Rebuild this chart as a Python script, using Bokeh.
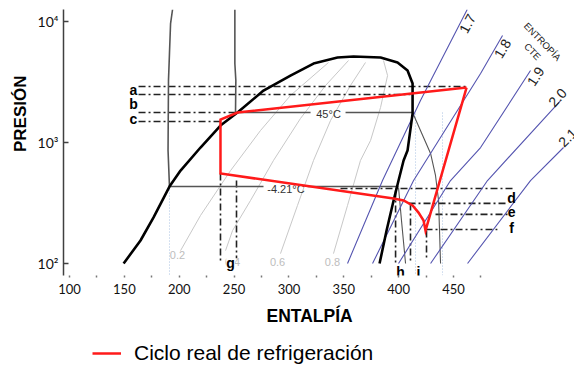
from bokeh.plotting import figure
from bokeh.layouts import column
from bokeh.models import Range1d, FixedTicker, Title, Legend, LegendItem, Label
from bokeh.core.properties import value
from bokeh.embed import file_html
from bokeh.resources import INLINE

# ---------------- axes ----------------
x_ticks = [100, 150, 200, 250, 300, 350, 400, 450]
x_minor = [125, 175, 225, 275, 325, 375, 425, 475]
y_ticks = [100, 1000, 10000]
y_tick_labels = ["10²", "10³", "10⁴"]

# ---------------- saturation dome (h kJ/kg, P kPa) ----------------
dome_h = [149.3, 164.7, 176.6, 191.1, 201.2, 219.4, 237.6, 253.1, 276.8, 301.4, 322.4,
          344.3, 358.9, 383.5, 399.0, 408.1, 412.7, 412.7, 408.1, 404.5, 399.9, 395.4,
          389.0, 382.6]
dome_p = [99.4, 154, 239, 430, 583, 904, 1374, 1758, 2673, 3556, 4470,
          5010, 5105, 5010, 4560, 3915, 3057, 1725, 853, 706, 482, 330,
          186, 99.4]

# ---------------- real refrigeration cycle ----------------
cycle_h = [461.9, 253.1, 237.6, 237.6, 395.4, 404.5, 412.7, 418.1, 422.7, 424.5, 461.9]
cycle_p = [2830, 1758, 1541, 551, 343, 330, 300, 262, 225, 186, 2830]

# ---------------- isotherms ----------------
iso1_h = [193.9, 192.1, 191.1, 190.2, 189.8, 191.1]
iso1_p = [12500, 9570, 5410, 3240, 853, 430]
iso2_h = [250.7, 250.7, 251.6, 251.3]
iso2_p = [12500, 4470, 3240, 1758]
t45_p = 1758
t45_h0 = [253.1, 351.6]
t45_h1 = [319.7, 412.7]
t45_sh_h = [412.7, 422.7, 429.1, 433.6, 436.4, 438.2]
t45_sh_p = [1758, 1094, 807, 531, 330, 99.4]
tm4_p = 430
tm4_h0 = [191.1, 317.0]
tm4_h1 = [276.8, 399.9]
tm4_sh_h = [399.9, 402.6, 406.3]
tm4_sh_p = [422, 225, 99.4]
iso_text = ["45°C", "-4.21°C"]
iso_text_h = [336.1, 297.3]
iso_text_p = [1725, 414]

# ---------------- vapour quality lines ----------------
q_labels = ["0.2", "0.4", "0.6", "0.8"]
q_label_h = [198.4, 248.6, 289.6, 339.7]
q_label_p = [116, 101.4, 103, 103]
q02_h = [201.2, 219.4, 246.8, 274.1, 301.4, 336.1]
q02_p = [127, 248, 583, 1250, 2433, 4560]
q04_h = [242.2, 248.6, 265.0, 285.9, 310.5, 333.4, 354.3]
q04_p = [127, 186, 330, 706, 1570, 2944, 4735]
q06_h = [292.3, 307.8, 322.4, 337.9, 356.1, 369.8]
q06_p = [120, 300, 706, 1510, 2944, 4560]
q08_h = [340.6, 353.4, 365.2, 374.4, 383.5, 389.9, 386.2]
q08_p = [120, 300, 706, 1033, 1936, 3556, 4735]

# ---------------- constant entropy lines ----------------
s_labels = ["1.7", "1.8", "1.9", "2.0", "2.1"]
s_label_h = [462.8, 494.7, 524.8, 544.8, 554.0]
s_label_p = [9570, 5946, 3493, 2340, 1094]
s_label_angle = [1.08, 1.03, 0.99, 0.84, 0.79]
s17_h = [462.5, 419.9, 385.3, 353.4]
s17_p = [12500, 2211, 482, 99.4]
s18_h = [494.7, 474.7, 413.6, 376.2]
s18_p = [7620, 3700, 482, 99.4]
s19_h = [520.2, 474.7, 447.3, 399.9]
s19_p = [3915, 904, 482, 99.4]
s20_h = [547.6, 481.0, 429.1]
s20_p = [2211, 482, 99.4]
s21_h = [550.3, 520.2, 462.8]
s21_p = [904, 482, 99.4]
ent_text = ["ENTROPÍA", "CTE"]
ent_h = [531.2, 522.1]
ent_p = [6790, 5625]

# ---------------- reference (dash-dot) lines ----------------
hd_p = [2885, 2477, 1758, 1483, 414, 312, 253, 190]
hd_h0 = [162.9, 162.9, 162.9, 162.9, 347.0, 409.0, 433.6, 424.5]
hd_h1 = [461.9, 410.8, 253.1, 237.6, 504.7, 500.2, 499.3, 490.0]
vd_h = [237.6, 252.2, 397.2, 410.8, 425.4]
vd_p0 = [551, 482, 399, 312, 186]
vd_p1 = [101, 110, 96, 101, 110]
vb_h = [191.1, 415.4, 440.0]
vb_p0 = [430, 1725, 1758]
vb_p1 = [79.5, 79.5, 79.5]
pt_text = ["a", "b", "c", "d", "e", "f"]
pt_h = [158.3, 158.3, 158.3, 502.9, 502.9, 502.9]
pt_p = [2726, 2050, 1570, 349, 267, 197]
pt2_text = ["g", "h", "i"]
pt2_h = [246.8, 401.7, 418.1]
pt2_p = [99.4, 83.8, 83.8]

legend_label = "Ciclo real de refrigeración"

# ---------------- main figure ----------------
p = figure(frame_width=511, frame_height=266, x_range=Range1d(94.5, 560.3), y_range=Range1d(79.1, 12500),
           y_axis_type="log", output_backend="svg", toolbar_location=None,
           min_border_left=63, min_border_right=0, min_border_top=9, min_border_bottom=0)
p.outline_line_color = None
p.xgrid.visible = False
p.ygrid.visible = False
p.background_fill_color = "white"
p.border_fill_color = "white"

p.xaxis.ticker = FixedTicker(ticks=x_ticks, minor_ticks=x_minor)
p.xaxis.axis_line_color = None
p.xaxis.major_tick_in = 0
p.xaxis.major_tick_out = 2
p.xaxis.minor_tick_in = 0
p.xaxis.minor_tick_out = 2
p.xaxis.major_tick_line_color = "#777777"
p.xaxis.minor_tick_line_color = "#777777"
p.xaxis.major_tick_line_width = 1.5
p.xaxis.minor_tick_line_width = 1.5
p.xaxis.major_label_standoff = 6
p.xaxis.major_label_text_font = "Lato"
p.xaxis.major_label_text_font_size = "13px"
p.xaxis.major_label_text_color = "#111111"

p.yaxis.ticker = FixedTicker(ticks=y_ticks)
p.yaxis.major_label_overrides = {t: l for t, l in zip(y_ticks, y_tick_labels)}
p.yaxis.axis_line_color = "#404040"
p.yaxis.axis_line_width = 1.5
p.yaxis.major_tick_in = 5
p.yaxis.major_tick_out = 0
p.yaxis.major_tick_line_color = "#404040"
p.yaxis.major_tick_line_width = 1.5
p.yaxis.minor_tick_line_color = None
p.yaxis.major_label_standoff = 5
p.yaxis.major_label_text_font = "Lato"
p.yaxis.major_label_text_font_size = "14px"
p.yaxis.major_label_text_color = "#111111"

# quality lines
p.multi_line(xs=[q02_h, q04_h, q06_h, q08_h], ys=[q02_p, q04_p, q06_p, q08_p],
             line_color="#c8c8c8", line_width=1)
p.text(x=q_label_h, y=q_label_p, text=q_labels, text_font=value("Liberation Sans"),
       text_font_size="11px", text_color="#bdbdbd", text_align="center", text_baseline="middle")

# light-blue dotted verticals
p.segment(x0=vb_h, y0=vb_p0, x1=vb_h, y1=vb_p1, line_color="#a9c1e2", line_width=1, line_dash="1 2")

# dash-dot reference lines
p.segment(x0=hd_h0, y0=hd_p, x1=hd_h1, y1=hd_p, line_color="#222222", line_width=1.6, line_dash="7 3 2 3")
p.segment(x0=vd_h, y0=vd_p0, x1=vd_h, y1=vd_p1, line_color="#222222", line_width=1.6, line_dash="7 3 2 3")

# isotherms
p.line(iso1_h, iso1_p, line_color="#555555", line_width=1.6)
p.line(iso2_h, iso2_p, line_color="#555555", line_width=1.6)
p.segment(x0=t45_h0, y0=[t45_p] * 2, x1=t45_h1, y1=[t45_p] * 2, line_color="#555555", line_width=1.6)
p.segment(x0=tm4_h0, y0=[tm4_p] * 2, x1=tm4_h1, y1=[tm4_p] * 2, line_color="#555555", line_width=1.6)
p.line(t45_sh_h, t45_sh_p, line_color="#555555", line_width=1.1)
p.line(tm4_sh_h, tm4_sh_p, line_color="#555555", line_width=1.1)
p.text(x=iso_text_h, y=iso_text_p, text=iso_text, text_font=value("Liberation Sans"),
       text_font_size="11px", text_color="#333333", text_align="center", text_baseline="middle")

# constant entropy lines
p.multi_line(xs=[s17_h, s18_h, s19_h, s20_h, s21_h], ys=[s17_p, s18_p, s19_p, s20_p, s21_p],
             line_color="#5555b0", line_width=1.1)
p.text(x=s_label_h, y=s_label_p, text=s_labels, angle=s_label_angle, text_font=value("Liberation Sans"),
       text_font_size="14px", text_color="#222222", text_align="center", text_baseline="middle")
p.text(x=ent_h, y=ent_p, text=ent_text, angle=[-0.8, -0.8], text_font=value("Liberation Sans"),
       text_font_size="9.5px", text_color="#222222", text_align="center", text_baseline="middle")

# saturation dome
p.line(dome_h, dome_p, line_color="black", line_width=2.6, line_join="round")

# cycle
p.line(cycle_h, cycle_p, line_color="#ff1a1a", line_width=2.5, line_join="miter")

# point labels
p.text(x=pt_h, y=pt_p, text=pt_text, text_font=value("Liberation Sans"), text_font_size="14px",
       text_font_style="bold", text_color="black", text_align="center", text_baseline="middle")
for t, hx, py in zip(pt2_text, pt2_h, pt2_p):
    p.add_layout(Label(x=hx, y=py, text=t, text_font="Liberation Sans", text_font_size="14px",
                       text_font_style="bold", text_color="black", text_align="center",
                       text_baseline="middle", background_fill_color="white" if t == "g" else None))

# axis titles
p.add_layout(Title(text="PRESIÓN", align="right", offset=66, text_font="Liberation Sans",
                   text_font_size="17px", text_font_style="bold", text_color="black"), "left")
p.add_layout(Title(text="ENTALPÍA", align="left", offset=203, vertical_align="top", standoff=18,
                   text_font="Liberation Sans", text_font_size="17.5px", text_font_style="bold",
                   text_color="black"), "below")

# ---------------- legend strip ----------------
pl = figure(width=574, height=28, x_range=Range1d(94.5, 560.3), y_range=Range1d(79.1, 12500),
            y_axis_type="log", x_axis_location=None, y_axis_location=None,
            output_backend="svg", toolbar_location=None,
            min_border_left=0, min_border_right=0, min_border_top=0, min_border_bottom=0)
pl.outline_line_color = None
pl.grid.visible = False
pl.background_fill_color = "white"
pl.border_fill_color = "white"
red_key = pl.line(cycle_h, cycle_p, line_color="#ff1a1a", line_width=2.5, visible=False)
legend = Legend(items=[LegendItem(label=legend_label, renderers=[red_key])],
                location=(29, -1), orientation="horizontal", padding=0, margin=0,
                border_line_color=None, background_fill_alpha=0, label_text_font="Liberation Sans",
                label_text_font_size="21px", label_text_color="black", glyph_width=29,
                glyph_height=24, label_standoff=13, label_height=24)
pl.add_layout(legend, "center")

page = column(p, pl, spacing=0)

open("out.html", "w").write(file_html(page, INLINE))
